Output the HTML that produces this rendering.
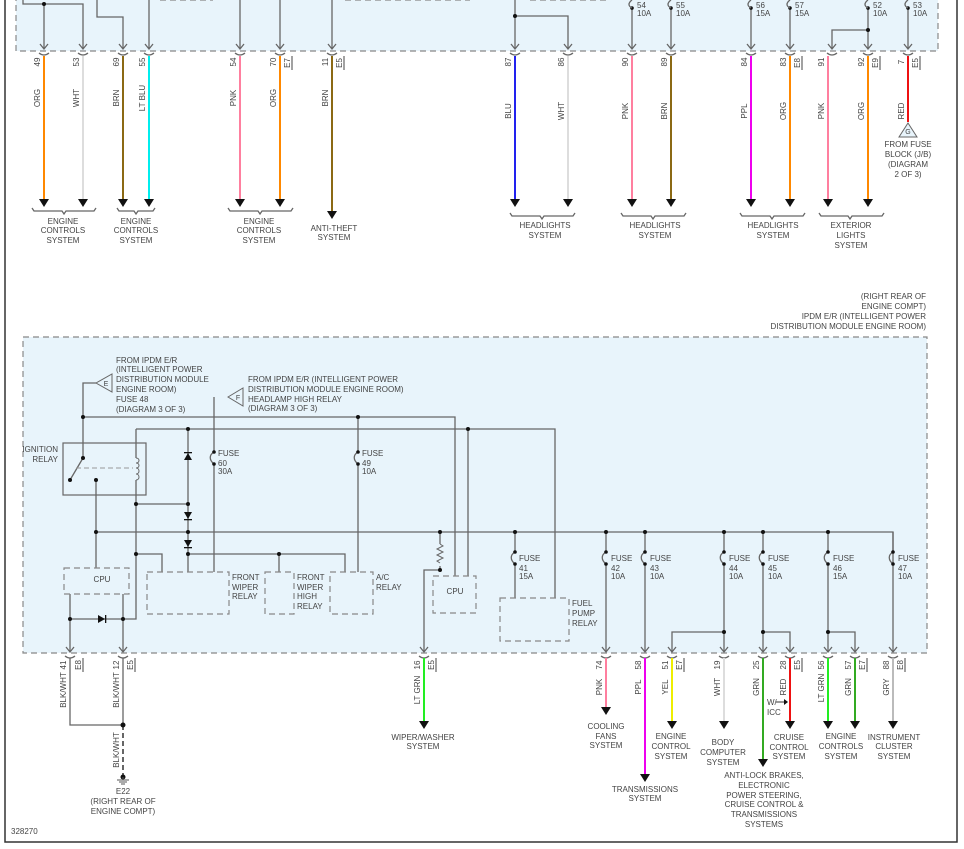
<!DOCTYPE html>
<html><head><meta charset="utf-8"><style>
html,body{margin:0;padding:0;background:#fff;}
svg{display:block;}
text{font-family:"Liberation Sans",sans-serif;font-size:8px;fill:#444;}
.w{stroke:#666;stroke-width:1.3;fill:none;}
.d{fill:#111;}
.bx{fill:#e8f4fb;stroke:#888;stroke-width:1.2;stroke-dasharray:6,4;}
.rb{fill:none;stroke:#888;stroke-width:1.2;stroke-dasharray:6,4;}
.c{stroke-width:2;fill:none;}
.m{text-anchor:middle;}
.e{text-anchor:end;}
</style></head><body>
<svg width="964" height="849" viewBox="0 0 964 849" xmlns="http://www.w3.org/2000/svg">
<!-- outer frame -->
<path d="M5,0 V842 H957 V0" fill="none" stroke="#333" stroke-width="1.5"/>

<!-- ===== TOP MODULE ===== -->
<path d="M16,-5 V51 H938 V-5" class="bx"/>
<path d="M160,0 H213 M345,0 H470 M530,0 H607" class="rb"/>
<!-- internal wires -->
<path class="w" d="M23,0 V4 H83 V48 M44,4 V48 M97,0 V17 H123 V48 M149,0 V48 M240,0 V48 M280,0 V48 M332,0 V48 M515,0 V48 M515,16 H568 V48 M632,8 V48 M671,8 V48 M751,8 V48 M790,8 V48 M868,8 V48 M868,30 H832 V48 M908,8 V48"/>
<g class="d"><circle cx="44" cy="4" r="2"/><circle cx="515" cy="16" r="2"/><circle cx="868" cy="30" r="2"/>
<circle cx="632" cy="8" r="1.8"/><circle cx="671" cy="8" r="1.8"/><circle cx="751" cy="8" r="1.8"/><circle cx="790" cy="8" r="1.8"/><circle cx="868" cy="8" r="1.8"/><circle cx="908" cy="8" r="1.8"/></g>
<path class="w" d="M632,8 c-4,-2 -4,-5 0,-8 M671,8 c-4,-2 -4,-5 0,-8 M751,8 c-4,-2 -4,-5 0,-8 M790,8 c-4,-2 -4,-5 0,-8 M868,8 c-4,-2 -4,-5 0,-8 M908,8 c-4,-2 -4,-5 0,-8"/>
<text x="637" y="8">54</text><text x="637" y="16">10A</text>
<text x="676" y="8">55</text><text x="676" y="16">10A</text>
<text x="756" y="8">56</text><text x="756" y="16">15A</text>
<text x="795" y="8">57</text><text x="795" y="16">15A</text>
<text x="873" y="8">52</text><text x="873" y="16">10A</text>
<text x="913" y="8">53</text><text x="913" y="16">10A</text>
<!-- connector chevrons -->
<path class="w" d="M40,44 L44,49 L48,44 M79,44 L83,49 L87,44 M119,44 L123,49 L127,44 M145,44 L149,49 L153,44 M236,44 L240,49 L244,44 M276,44 L280,49 L284,44 M328,44 L332,49 L336,44 M511,44 L515,49 L519,44 M564,44 L568,49 L572,44 M628,44 L632,49 L636,44 M667,44 L671,49 L675,44 M747,44 L751,49 L755,44 M786,44 L790,49 L794,44 M828,44 L832,49 L836,44 M864,44 L868,49 L872,44 M904,44 L908,49 L912,44"/>
<path class="w" stroke-width="1" d="M39,53 Q44,57 49,53 M78,53 Q83,57 88,53 M118,53 Q123,57 128,53 M144,53 Q149,57 154,53 M235,53 Q240,57 245,53 M275,53 Q280,57 285,53 M327,53 Q332,57 337,53 M510,53 Q515,57 520,53 M563,53 Q568,57 573,53 M627,53 Q632,57 637,53 M666,53 Q671,57 676,53 M746,53 Q751,57 756,53 M785,53 Q790,57 795,53 M827,53 Q832,57 837,53 M863,53 Q868,57 873,53 M903,53 Q908,57 913,53"/>
<!-- colored wires top -->
<path class="c" stroke="#ff8800" d="M44,56 V200"/>
<path class="c" stroke="#dddddd" d="M83,56 V200"/>
<path class="c" stroke="#8b6914" d="M123,56 V200"/>
<path class="c" stroke="#00eeee" d="M149,56 V200"/>
<path class="c" stroke="#ff7f9f" d="M240,56 V200"/>
<path class="c" stroke="#ff8800" d="M280,56 V200"/>
<path class="c" stroke="#8b6914" d="M332,56 V212"/>
<path class="c" stroke="#2222ee" d="M515,56 V200"/>
<path class="c" stroke="#dddddd" d="M568,56 V200"/>
<path class="c" stroke="#ff7f9f" d="M632,56 V200"/>
<path class="c" stroke="#8b6914" d="M671,56 V200"/>
<path class="c" stroke="#ee00ee" d="M751,56 V200"/>
<path class="c" stroke="#ff8800" d="M790,56 V200"/>
<path class="c" stroke="#ff7f9f" d="M828,56 V200"/>
<path class="c" stroke="#ff8800" d="M868,56 V200"/>
<path class="c" stroke="#ee1111" d="M908,56 V122"/>
<g class="d">
<polygon points="39,199 49,199 44,207"/><polygon points="78,199 88,199 83,207"/><polygon points="118,199 128,199 123,207"/><polygon points="144,199 154,199 149,207"/>
<polygon points="235,199 245,199 240,207"/><polygon points="275,199 285,199 280,207"/><polygon points="327,211 337,211 332,219"/>
<polygon points="510,199 520,199 515,207"/><polygon points="563,199 573,199 568,207"/><polygon points="627,199 637,199 632,207"/><polygon points="666,199 676,199 671,207"/>
<polygon points="746,199 756,199 751,207"/><polygon points="785,199 795,199 790,207"/><polygon points="823,199 833,199 828,207"/><polygon points="863,199 873,199 868,207"/>
</g>
<!-- G triangle -->
<polygon points="908,123 899,137 917,137" fill="#e8f4fb" stroke="#666"/>
<text x="908" y="134" class="m" style="font-size:7px">G</text>
<text x="908" y="147" class="m">FROM FUSE</text><text x="908" y="157" class="m">BLOCK (J/B)</text><text x="908" y="167" class="m">(DIAGRAM</text><text x="908" y="177" class="m">2 OF 3)</text>
<!-- brackets -->
<path class="w" stroke-width="1" d="M32,208 l2,3 H62 l2,3 l2,-3 H94 l2,-3 M117,208 l2,3 H134 l2,3 l2,-3 H153 l2,-3 M228,208 l2,3 H258 l2,3 l2,-3 H291 l2,-3 M510,213 l2,3 H540 l2,3 l2,-3 H573 l2,-3 M621,213 l2,3 H651 l2,3 l2,-3 H684 l2,-3 M740,213 l2,3 H770 l2,3 l2,-3 H803 l2,-3 M819,213 l2,3 H848 l2,3 l2,-3 H882 l2,-3"/>
<text x="63" y="224" class="m">ENGINE</text><text x="63" y="233" class="m">CONTROLS</text><text x="63" y="243" class="m">SYSTEM</text>
<text x="136" y="224" class="m">ENGINE</text><text x="136" y="233" class="m">CONTROLS</text><text x="136" y="243" class="m">SYSTEM</text>
<text x="259" y="224" class="m">ENGINE</text><text x="259" y="233" class="m">CONTROLS</text><text x="259" y="243" class="m">SYSTEM</text>
<text x="334" y="231" class="m">ANTI-THEFT</text><text x="334" y="240" class="m">SYSTEM</text>
<text x="545" y="228" class="m">HEADLIGHTS</text><text x="545" y="238" class="m">SYSTEM</text>
<text x="655" y="228" class="m">HEADLIGHTS</text><text x="655" y="238" class="m">SYSTEM</text>
<text x="773" y="228" class="m">HEADLIGHTS</text><text x="773" y="238" class="m">SYSTEM</text>
<text x="851" y="228" class="m">EXTERIOR</text><text x="851" y="238" class="m">LIGHTS</text><text x="851" y="248" class="m">SYSTEM</text>
<!-- pin numbers top (rotated) -->
<g class="m">
<text transform="translate(40,62) rotate(-90)">49</text><text transform="translate(79,62) rotate(-90)">53</text><text transform="translate(119,62) rotate(-90)">69</text><text transform="translate(145,62) rotate(-90)">55</text>
<text transform="translate(236,62) rotate(-90)">54</text><text transform="translate(276,62) rotate(-90)">70</text><text transform="translate(328,62) rotate(-90)">11</text>
<text transform="translate(511,62) rotate(-90)">87</text><text transform="translate(564,62) rotate(-90)">86</text><text transform="translate(628,62) rotate(-90)">90</text><text transform="translate(667,62) rotate(-90)">89</text>
<text transform="translate(747,62) rotate(-90)">84</text><text transform="translate(786,62) rotate(-90)">83</text><text transform="translate(824,62) rotate(-90)">91</text><text transform="translate(864,62) rotate(-90)">92</text><text transform="translate(904,62) rotate(-90)">7</text>
<text transform="translate(290,63) rotate(-90)">E7</text><text transform="translate(342,63) rotate(-90)">E5</text><text transform="translate(800,63) rotate(-90)">E8</text><text transform="translate(878,63) rotate(-90)">E9</text><text transform="translate(918,63) rotate(-90)">E5</text>
<text transform="translate(40,98) rotate(-90)">ORG</text><text transform="translate(79,98) rotate(-90)">WHT</text><text transform="translate(119,98) rotate(-90)">BRN</text><text transform="translate(145,98) rotate(-90)">LT BLU</text>
<text transform="translate(236,98) rotate(-90)">PNK</text><text transform="translate(276,98) rotate(-90)">ORG</text><text transform="translate(328,98) rotate(-90)">BRN</text>
<text transform="translate(511,111) rotate(-90)">BLU</text><text transform="translate(564,111) rotate(-90)">WHT</text><text transform="translate(628,111) rotate(-90)">PNK</text><text transform="translate(667,111) rotate(-90)">BRN</text>
<text transform="translate(747,111) rotate(-90)">PPL</text><text transform="translate(786,111) rotate(-90)">ORG</text><text transform="translate(824,111) rotate(-90)">PNK</text><text transform="translate(864,111) rotate(-90)">ORG</text><text transform="translate(904,111) rotate(-90)">RED</text>
</g>
<path stroke="#444" d="M292,56 V70 M344,56 V70 M802,56 V70 M880,56 V70 M920,56 V70"/>

<!-- ===== BOTTOM MODULE ===== -->
<text x="926" y="299" class="e">(RIGHT REAR OF</text><text x="926" y="309" class="e">ENGINE COMPT)</text>
<text x="926" y="319" class="e">IPDM E/R (INTELLIGENT POWER</text><text x="926" y="329" class="e">DISTRIBUTION MODULE ENGINE ROOM)</text>
<rect x="23" y="337" width="904" height="316" class="bx"/>

<text x="116" y="363">FROM IPDM E/R</text><text x="116" y="372">(INTELLIGENT POWER</text><text x="116" y="382">DISTRIBUTION MODULE</text><text x="116" y="392">ENGINE ROOM)</text><text x="116" y="402">FUSE 48</text><text x="116" y="412">(DIAGRAM 3 OF 3)</text>
<text x="248" y="382">FROM IPDM E/R (INTELLIGENT POWER</text><text x="248" y="392">DISTRIBUTION MODULE ENGINE ROOM)</text><text x="248" y="402">HEADLAMP HIGH RELAY</text><text x="248" y="411">(DIAGRAM 3 OF 3)</text>
<polygon points="96,383 112,374 112,392" fill="#e8f4fb" stroke="#666"/><text x="106" y="386" class="m" style="font-size:7px">E</text>
<polygon points="228,397 243,388 243,406" fill="#e8f4fb" stroke="#666"/><text x="238" y="400" class="m" style="font-size:7px">F</text>

<text x="58" y="452" class="e">IGNITION</text><text x="58" y="462" class="e">RELAY</text>
<rect x="63" y="443" width="83" height="52" fill="#e8f4fb" stroke="#666" stroke-width="1.2"/>

<path class="w" d="M96,383 H83 V458 M83,417 H455 V576 M358,417 V452 M358,464 V572
M136,429 H555 V598 M136,429 V458 M136,480 V619 H123 M188,429 V572 M468,429 V576
M214,397 V452 M214,464 V572
M70,480 L83,458 M96,480 V568
M136,504 H188
M96,532 H893 V652
M136,554 H162 V572 M188,554 H345 V572 M279,554 V572
M70,594 V652 M123,594 V652 M70,619 H123
M440,532 V544 M440,566 V570 H424 V652
M515,532 V552 M515,564 V598
M606,532 V552 M606,564 V652 M645,532 V552 M645,564 V652 M724,532 V552 M724,564 V652 M763,532 V552 M763,564 V652 M828,532 V552 M828,564 V652 M893,552 M893,564 V652
M724,632 H672 V652 M763,632 H790 V652 M828,632 H855 V652"/>
<path d="M440,544 l3,2 l-6,3 l6,3 l-6,3 l6,3 l-6,3 l3,2" stroke="#666" fill="none"/>
<path d="M76,468 H133" stroke="#999" stroke-dasharray="5,3" fill="none"/>
<path d="M136,458 c4,0 4,5 0,5 c4,0 4,5 0,5 c4,0 4,6 0,6 c4,0 4,6 0,6" stroke="#666" fill="none"/>
<!-- fuses bottom -->
<path class="w" d="M214,452 c-5,3 -5,8 0,12 M358,452 c-5,3 -5,8 0,12 M515,552 c-5,3 -5,8 0,12 M606,552 c-5,3 -5,8 0,12 M645,552 c-5,3 -5,8 0,12 M724,552 c-5,3 -5,8 0,12 M763,552 c-5,3 -5,8 0,12 M828,552 c-5,3 -5,8 0,12 M893,552 c-5,3 -5,8 0,12"/>
<path class="w" d="M893,532 V552"/>
<g class="d">
<circle cx="83" cy="417" r="2"/><circle cx="358" cy="417" r="2"/><circle cx="188" cy="429" r="2"/><circle cx="468" cy="429" r="2"/>
<circle cx="83" cy="458" r="2"/><circle cx="70" cy="480" r="2"/><circle cx="96" cy="480" r="2"/>
<circle cx="136" cy="504" r="2"/><circle cx="188" cy="504" r="2"/><circle cx="96" cy="532" r="2"/><circle cx="188" cy="532" r="2"/><circle cx="440" cy="532" r="2"/>
<circle cx="136" cy="554" r="2"/><circle cx="188" cy="554" r="2"/><circle cx="279" cy="554" r="2"/><circle cx="440" cy="570" r="2"/>
<circle cx="70" cy="619" r="2"/><circle cx="123" cy="619" r="2"/>
<circle cx="515" cy="532" r="2"/><circle cx="606" cy="532" r="2"/><circle cx="645" cy="532" r="2"/><circle cx="724" cy="532" r="2"/><circle cx="763" cy="532" r="2"/><circle cx="828" cy="532" r="2"/>
<circle cx="724" cy="632" r="2"/><circle cx="763" cy="632" r="2"/><circle cx="828" cy="632" r="2"/>
<circle cx="214" cy="452" r="1.8"/><circle cx="214" cy="464" r="1.8"/><circle cx="358" cy="452" r="1.8"/><circle cx="358" cy="464" r="1.8"/>
<circle cx="515" cy="552" r="1.8"/><circle cx="515" cy="564" r="1.8"/><circle cx="606" cy="552" r="1.8"/><circle cx="606" cy="564" r="1.8"/><circle cx="645" cy="552" r="1.8"/><circle cx="645" cy="564" r="1.8"/><circle cx="724" cy="552" r="1.8"/><circle cx="724" cy="564" r="1.8"/><circle cx="763" cy="552" r="1.8"/><circle cx="763" cy="564" r="1.8"/><circle cx="828" cy="552" r="1.8"/><circle cx="828" cy="564" r="1.8"/><circle cx="893" cy="552" r="1.8"/><circle cx="893" cy="564" r="1.8"/>
<!-- diodes -->
<polygon points="184,460 192,460 188,453"/><rect x="184" y="452" width="8" height="1.3"/>
<polygon points="184,512 192,512 188,519"/><rect x="184" y="519" width="8" height="1.3"/>
<polygon points="184,540 192,540 188,547"/><rect x="184" y="547" width="8" height="1.3"/>
<polygon points="98,615 98,623 105,619"/><rect x="105" y="615" width="1.3" height="8"/>
</g>
<!-- internal boxes -->
<rect x="64" y="568" width="65" height="26" class="bx"/><text x="102" y="582" class="m">CPU</text>
<rect x="147" y="572" width="82" height="42" class="bx"/>
<rect x="265" y="572" width="29" height="42" class="bx"/>
<rect x="330" y="572" width="43" height="42" class="bx"/>
<rect x="433" y="576" width="43" height="37" class="bx"/><text x="455" y="594" class="m">CPU</text>
<rect x="500" y="598" width="69" height="43" class="bx"/>
<text x="232" y="580">FRONT</text><text x="232" y="590">WIPER</text><text x="232" y="599">RELAY</text>
<text x="297" y="580">FRONT</text><text x="297" y="590">WIPER</text><text x="297" y="599">HIGH</text><text x="297" y="609">RELAY</text>
<text x="376" y="580">A/C</text><text x="376" y="590">RELAY</text>
<text x="572" y="606">FUEL</text><text x="572" y="616">PUMP</text><text x="572" y="626">RELAY</text>
<text x="218" y="456">FUSE</text><text x="218" y="466">60</text><text x="218" y="474">30A</text>
<text x="362" y="456">FUSE</text><text x="362" y="466">49</text><text x="362" y="474">10A</text>
<text x="519" y="561">FUSE</text><text x="519" y="571">41</text><text x="519" y="579">15A</text>
<text x="611" y="561">FUSE</text><text x="611" y="571">42</text><text x="611" y="579">10A</text>
<text x="650" y="561">FUSE</text><text x="650" y="571">43</text><text x="650" y="579">10A</text>
<text x="729" y="561">FUSE</text><text x="729" y="571">44</text><text x="729" y="579">10A</text>
<text x="768" y="561">FUSE</text><text x="768" y="571">45</text><text x="768" y="579">10A</text>
<text x="833" y="561">FUSE</text><text x="833" y="571">46</text><text x="833" y="579">15A</text>
<text x="898" y="561">FUSE</text><text x="898" y="571">47</text><text x="898" y="579">10A</text>
<!-- bottom connectors -->
<path class="w" d="M66,647 L70,652 L74,647 M119,647 L123,652 L127,647 M420,647 L424,652 L428,647 M602,647 L606,652 L610,647 M641,647 L645,652 L649,647 M668,647 L672,652 L676,647 M720,647 L724,652 L728,647 M759,647 L763,652 L767,647 M786,647 L790,652 L794,647 M824,647 L828,652 L832,647 M851,647 L855,652 L859,647 M889,647 L893,652 L897,647"/>
<path class="w" stroke-width="1" d="M65,656 Q70,660 75,656 M118,656 Q123,660 128,656 M419,656 Q424,660 429,656 M601,656 Q606,660 611,656 M640,656 Q645,660 650,656 M667,656 Q672,660 677,656 M719,656 Q724,660 729,656 M758,656 Q763,660 768,656 M785,656 Q790,660 795,656 M823,656 Q828,660 833,656 M850,656 Q855,660 860,656 M888,656 Q893,660 898,656"/>
<!-- bottom wires -->
<path class="w" d="M70,658 V725 H123 M123,658 V725"/>
<path d="M123,725 V776" stroke="#333" stroke-width="1.5" stroke-dasharray="5,3" fill="none"/>
<g class="d"><circle cx="123" cy="725" r="2.5"/><circle cx="123" cy="777" r="2.5"/></g>
<path d="M117,780 H129 M119,782 H127 M121,784 H125 M123,777 V780" stroke="#555" fill="none"/>
<text x="123" y="794" class="m">E22</text><text x="123" y="804" class="m">(RIGHT REAR OF</text><text x="123" y="814" class="m">ENGINE COMPT)</text>
<text x="11" y="834">328270</text>
<path class="c" stroke="#22ee22" d="M424,658 V722"/>
<path class="c" stroke="#ff7f9f" d="M606,658 V708"/>
<path class="c" stroke="#ee00ee" d="M645,658 V775"/>
<path class="c" stroke="#eeee00" d="M672,658 V722"/>
<path class="c" stroke="#dddddd" d="M724,658 V722"/>
<path class="c" stroke="#33aa22" d="M763,658 V760"/>
<path class="c" stroke="#ee1111" d="M790,658 V722"/>
<path class="c" stroke="#22ee22" d="M828,658 V722"/>
<path class="c" stroke="#33aa22" d="M855,658 V722"/>
<path class="c" stroke="#bbbbbb" d="M893,658 V722"/>
<g class="d">
<polygon points="419,721 429,721 424,729"/><polygon points="601,707 611,707 606,715"/><polygon points="640,774 650,774 645,782"/>
<polygon points="667,721 677,721 672,729"/><polygon points="719,721 729,721 724,729"/><polygon points="758,759 768,759 763,767"/>
<polygon points="785,721 795,721 790,729"/><polygon points="823,721 833,721 828,729"/><polygon points="850,721 860,721 855,729"/><polygon points="888,721 898,721 893,729"/>
</g>
<path d="M776,702 H785" stroke="#333"/><polygon points="784,699 788,702 784,705" class="d"/>
<text x="767" y="705" class="e" style="text-anchor:start">W/</text><text x="767" y="715">ICC</text>
<g class="m">
<text transform="translate(66,665) rotate(-90)">41</text><text transform="translate(119,665) rotate(-90)">12</text><text transform="translate(420,665) rotate(-90)">16</text>
<text transform="translate(602,665) rotate(-90)">74</text><text transform="translate(641,665) rotate(-90)">58</text><text transform="translate(668,665) rotate(-90)">51</text><text transform="translate(720,665) rotate(-90)">19</text>
<text transform="translate(759,665) rotate(-90)">25</text><text transform="translate(786,665) rotate(-90)">28</text><text transform="translate(824,665) rotate(-90)">56</text><text transform="translate(851,665) rotate(-90)">57</text><text transform="translate(889,665) rotate(-90)">88</text>
<text transform="translate(81,665) rotate(-90)">E8</text><text transform="translate(133,665) rotate(-90)">E5</text><text transform="translate(434,665) rotate(-90)">E5</text><text transform="translate(682,665) rotate(-90)">E7</text><text transform="translate(800,665) rotate(-90)">E5</text><text transform="translate(865,665) rotate(-90)">E7</text><text transform="translate(903,665) rotate(-90)">E8</text>
<text transform="translate(66,690) rotate(-90)">BLK/WHT</text><text transform="translate(119,690) rotate(-90)">BLK/WHT</text><text transform="translate(119,750) rotate(-90)">BLK/WHT</text><text transform="translate(420,690) rotate(-90)">LT GRN</text>
<text transform="translate(602,687) rotate(-90)">PNK</text><text transform="translate(641,687) rotate(-90)">PPL</text><text transform="translate(668,687) rotate(-90)">YEL</text><text transform="translate(720,687) rotate(-90)">WHT</text>
<text transform="translate(759,687) rotate(-90)">GRN</text><text transform="translate(786,687) rotate(-90)">RED</text><text transform="translate(824,688) rotate(-90)">LT GRN</text><text transform="translate(851,687) rotate(-90)">GRN</text><text transform="translate(889,687) rotate(-90)">GRY</text>
</g>
<path stroke="#444" d="M83,658 V672 M135,658 V672 M436,658 V672 M684,658 V672 M802,658 V672 M867,658 V672 M905,658 V672"/>
<text x="423" y="740" class="m">WIPER/WASHER</text><text x="423" y="749" class="m">SYSTEM</text>
<text x="606" y="729" class="m">COOLING</text><text x="606" y="739" class="m">FANS</text><text x="606" y="748" class="m">SYSTEM</text>
<text x="645" y="792" class="m">TRANSMISSIONS</text><text x="645" y="801" class="m">SYSTEM</text>
<text x="671" y="739" class="m">ENGINE</text><text x="671" y="749" class="m">CONTROL</text><text x="671" y="759" class="m">SYSTEM</text>
<text x="723" y="745" class="m">BODY</text><text x="723" y="755" class="m">COMPUTER</text><text x="723" y="765" class="m">SYSTEM</text>
<text x="764" y="778" class="m">ANTI-LOCK BRAKES,</text><text x="764" y="788" class="m">ELECTRONIC</text><text x="764" y="798" class="m">POWER STEERING,</text><text x="764" y="807" class="m">CRUISE CONTROL &amp;</text><text x="764" y="817" class="m">TRANSMISSIONS</text><text x="764" y="827" class="m">SYSTEMS</text>
<text x="789" y="740" class="m">CRUISE</text><text x="789" y="750" class="m">CONTROL</text><text x="789" y="759" class="m">SYSTEM</text>
<text x="841" y="739" class="m">ENGINE</text><text x="841" y="749" class="m">CONTROLS</text><text x="841" y="759" class="m">SYSTEM</text>
<text x="894" y="740" class="m">INSTRUMENT</text><text x="894" y="749" class="m">CLUSTER</text><text x="894" y="759" class="m">SYSTEM</text>
</svg>
</body></html>
